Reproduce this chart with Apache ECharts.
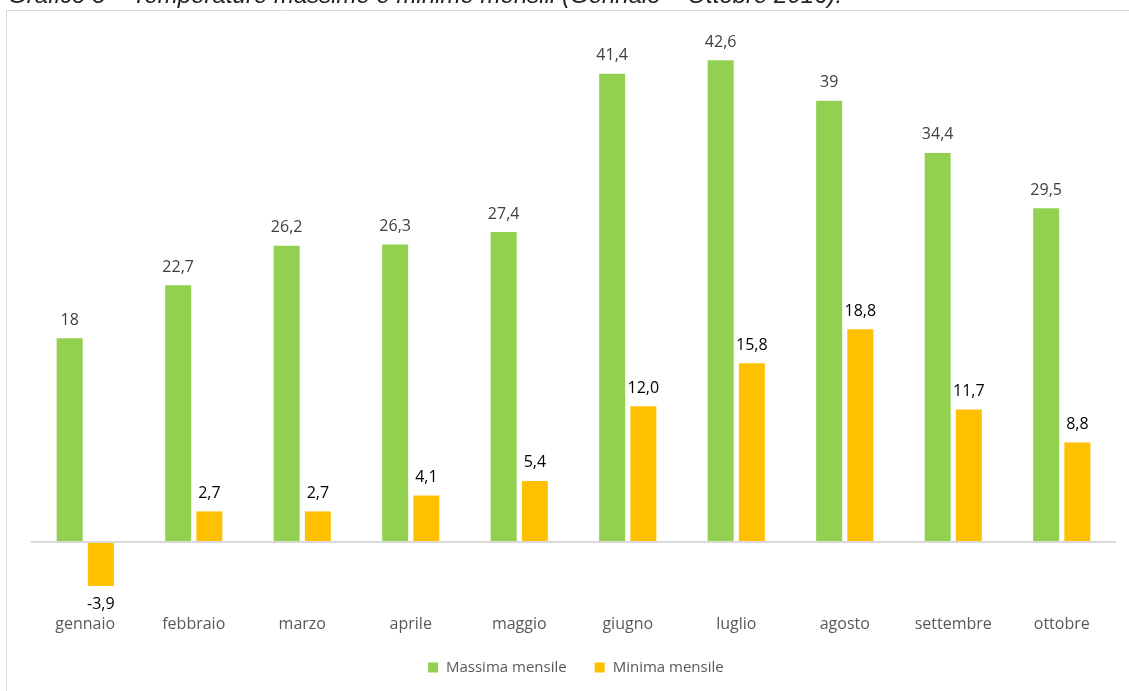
<!DOCTYPE html>
<html><head><meta charset="utf-8">
<script src="https://cdn.jsdelivr.net/npm/echarts@6/dist/echarts.min.js"></script>
<style>html,body{margin:0;padding:0;background:#fff}#c{width:1129px;height:691px}</style>
</head><body><div id="c"></div>
<script>
const months = ['gennaio','febbraio','marzo','aprile','maggio','giugno','luglio','agosto','settembre','ottobre'];
const massima = [18, 22.7, 26.2, 26.3, 27.4, 41.4, 42.6, 39, 34.4, 29.5];
const minima = [-3.9, 2.7, 2.7, 4.1, 5.4, 12.0, 15.8, 18.8, 11.7, 8.8];
const seriesNames = ['Massima mensile', 'Minima mensile'];
const titleText = 'Grafico 3 – Temperature massime e minime mensili (Gennaio – Ottobre 2016).';

const FONT = 'Open Sans';
const chart = echarts.init(document.getElementById('c'), null, {renderer: 'canvas'});
chart.setOption({
  animation: false,
  backgroundColor: '#fff',
  graphic: [
    {type: 'rect', shape: {x: 6.5, y: 10.5, width: 1140, height: 700}, style: {fill: 'none', stroke: '#d9d9d9', lineWidth: 1}, z: -1},
    {type: 'text', x: 8, y: 8, style: {text: titleText, font: 'italic 24px "Liberation Sans"', fill: '#222', textVerticalAlign: 'bottom'}}
  ],
  legend: {
    data: seriesNames, left: 423, top: 655, itemWidth: 10, itemHeight: 10, itemGap: 28,
    icon: 'rect',
    textStyle: {fontFamily: FONT, fontSize: 15, color: '#595959', padding: [0, 0, 0, 3]}
  },
  grid: {left: 31, right: 13, top: 33, bottom: 92.5, containLabel: false},
  xAxis: {
    type: 'category', data: months,
    axisLine: {show: false, onZero: false}, axisTick: {show: false},
    axisLabel: {fontFamily: FONT, fontSize: 16, color: '#595959', margin: 18}
  },
  yAxis: {type: 'value', min: -5, max: 45, show: false, splitLine: {show: false}},
  series: [
    {
      name: seriesNames[0], type: 'bar', data: massima, barWidth: 26, barGap: '20%',
      itemStyle: {color: '#92D050'},
      label: {show: true, position: 'top', distance: 10, fontFamily: FONT, fontSize: 16, color: '#404040',
        formatter: p => String(p.value).replace('.', ',')},
      markLine: {silent: true, symbol: 'none', label: {show: false},
        lineStyle: {color: '#d9d9d9', type: 'solid', width: 2}, data: [{yAxis: 0}]}
    },
    {
      name: seriesNames[1], type: 'bar', barWidth: 26,
      data: minima.map(v => v < 0 ? {value: v, label: {position: 'bottom'}} : v),
      itemStyle: {color: '#FFC000'},
      label: {show: true, position: 'top', distance: 10, fontFamily: FONT, fontSize: 16, color: '#000',
        formatter: p => p.value.toFixed(1).replace('.', ',')}
    }
  ]
});
</script></body></html>
